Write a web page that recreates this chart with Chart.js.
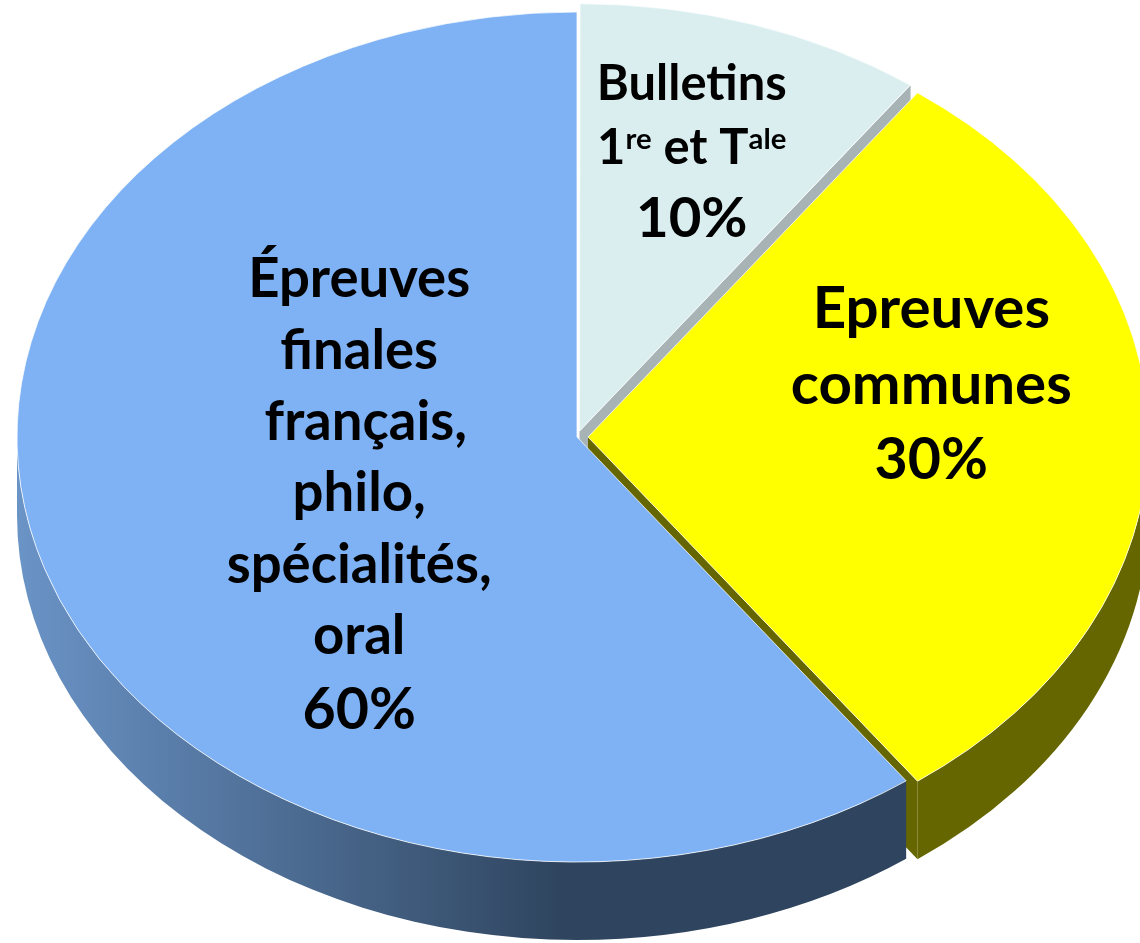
<!DOCTYPE html>
<html>
<head>
<meta charset="utf-8">
<script src="https://cdn.jsdelivr.net/npm/chart.js@4.4.1/dist/chart.umd.min.js"></script>
<style>
  html, body { margin: 0; background: #fff; }
  canvas { display: block; }
</style>
</head>
<body>
<canvas id="bacChart" width="1140" height="943"></canvas>
<script>
// répartition de la note du bac
const categories = ['Bulletins 1re et Tale', 'Epreuves communes', 'Épreuves finales'];
const shares = [10, 30, 60];
const percentLabels = ['10%', '30%', '60%'];
const labelLines = [
  ['Bulletins', '1^re et T^ale'],
  ['Epreuves', 'communes'],
  ['Épreuves', 'finales', ' français,', 'philo,', 'spécialités,', 'oral']
];

// styles
const topColors = ['#daeef0', '#ffff00', '#7eb2f4'];
const sideColors = ['#a7b3b5', '#666600', '#2f455f'];
const explode = [32, 44, 0];
const labelSizes = [[52, 52, 60], [62, 62, 61], [58, 58, 58, 58, 58, 58, 61]];
const labelPlace = [{ f: 0.645, dy: -17 }, { f: 0.6125, dy: -53 }, { f: 0.409, dy: 4 }];
const FONT = 'Lato, "Liberation Sans", sans-serif';

// vue en perspective : ellipse + épaisseur
const CX = 577, CY = 437, R = 560, K = 0.759, DEPTH = 78;

function sliceGeo(chart) {
  const arcs = chart.getDatasetMeta(0).data;
  const ax = arcs[0].x, ay = arcs[0].y;
  return arcs.map(a => {
    const off = (a.options.offset || 0) / 4;
    const mid = (a.startAngle + a.endAngle) / 2;
    const circ = a.endAngle - a.startAngle;
    const r = a.outerRadius + off * (1 - Math.sin(Math.min(Math.PI, circ)));
    const x = a.x + Math.cos(mid) * off, y = a.y + Math.sin(mid) * off;
    return { sx: CX + (x - ax), sy: CY + (y - ay) * K, r, s: a.startAngle, e: a.endAngle, mid, ax, ay };
  });
}

function sideFill(ctx, i) {
  if (i !== 2) return sideColors[i];
  const g = ctx.createLinearGradient(20, 0, 560, 0);
  g.addColorStop(0, '#6a93c6');
  g.addColorStop(1, '#2f455f');
  return g;
}

const tiltPlugin = {
  id: 'tilt',
  beforeDatasetsDraw(chart) {
    const ctx = chart.ctx;
    const geo = sliceGeo(chart);
    // faces radiales visibles (parts détachées)
    geo.forEach((g, i) => {
      [[g.e, Math.cos(g.e) > 0.01], [g.s, Math.cos(g.s) < -0.01]].forEach(([t, vis]) => {
        if (!vis) return;
        const rx = g.sx + g.r * Math.cos(t), ry = g.sy + g.r * K * Math.sin(t);
        ctx.beginPath();
        ctx.moveTo(g.sx, g.sy);
        ctx.lineTo(rx, ry);
        ctx.lineTo(rx, ry + DEPTH);
        ctx.lineTo(g.sx, g.sy + DEPTH);
        ctx.closePath();
        ctx.fillStyle = sideFill(ctx, i);
        ctx.fill();
      });
    });
    // bord avant
    geo.forEach((g, i) => {
      const lo = Math.max(g.s, 0), hi = Math.min(g.e, Math.PI);
      if (hi <= lo) return;
      ctx.beginPath();
      ctx.ellipse(g.sx, g.sy, g.r, g.r * K, 0, lo, hi, false);
      ctx.ellipse(g.sx, g.sy + DEPTH, g.r, g.r * K, 0, hi, lo, true);
      ctx.closePath();
      ctx.fillStyle = sideFill(ctx, i);
      ctx.fill();
    });
    // dessus écrasé
    ctx.save();
    ctx.translate(CX, CY);
    ctx.scale(1, K);
    ctx.translate(-geo[0].ax, -geo[0].ay);
  },
  afterDatasetsDraw(chart) {
    chart.ctx.restore();
  },
  afterDraw(chart) {
    const ctx = chart.ctx;
    const geo = sliceGeo(chart);
    // taille équivalente
    ctx.font = `bold 100px ${FONT}`;
    const scale = 265 / (ctx.measureText('spécialités,').width / 100 * 58);
    ctx.fillStyle = '#000';
    ctx.textBaseline = 'alphabetic';
    ctx.textAlign = 'left';
    geo.forEach((g, i) => {
      const lines = labelLines[i].concat([percentLabels[i]]);
      const sizes = labelSizes[i];
      const p = labelPlace[i];
      const x = g.sx + p.f * g.r * Math.cos(g.mid);
      const y = g.sy + p.f * g.r * K * Math.sin(g.mid) + p.dy;
      let total = 0.64 * sizes[0];
      for (let j = 1; j < lines.length; j++) total += 1.23 * sizes[j];
      let base = y - total / 2 + 0.64 * sizes[0];
      lines.forEach((line, j) => {
        if (j > 0) base += 1.23 * sizes[j];
        const s = sizes[j] * scale;
        const parts = line.split(/\^(\w+)/);
        const segs = parts.map((t, k) => ({ t, sup: k % 2 === 1 }));
        let w = 0;
        segs.forEach(sg => {
          ctx.font = `bold ${sg.sup ? s * 0.6 : s}px ${FONT}`;
          sg.w = ctx.measureText(sg.t).width;
          w += sg.w;
        });
        let cx = x - w / 2;
        segs.forEach(sg => {
          ctx.font = `bold ${sg.sup ? s * 0.6 : s}px ${FONT}`;
          ctx.fillText(sg.t, cx, sg.sup ? base - s * 0.3 : base);
          cx += sg.w;
        });
      });
    });
  }
};

new Chart(document.getElementById('bacChart'), {
  type: 'pie',
  data: {
    labels: categories,
    datasets: [{
      data: shares,
      backgroundColor: topColors,
      borderColor: 'rgba(255,255,255,0.85)',
      borderWidth: 1,
      offset: explode,
      clip: false
    }]
  },
  options: {
    responsive: false,
    animation: false,
    radius: R,
    layout: { padding: 0 },
    plugins: {
      legend: { display: false },
      tooltip: { enabled: false }
    }
  },
  plugins: [tiltPlugin]
});
</script>
</body>
</html>
